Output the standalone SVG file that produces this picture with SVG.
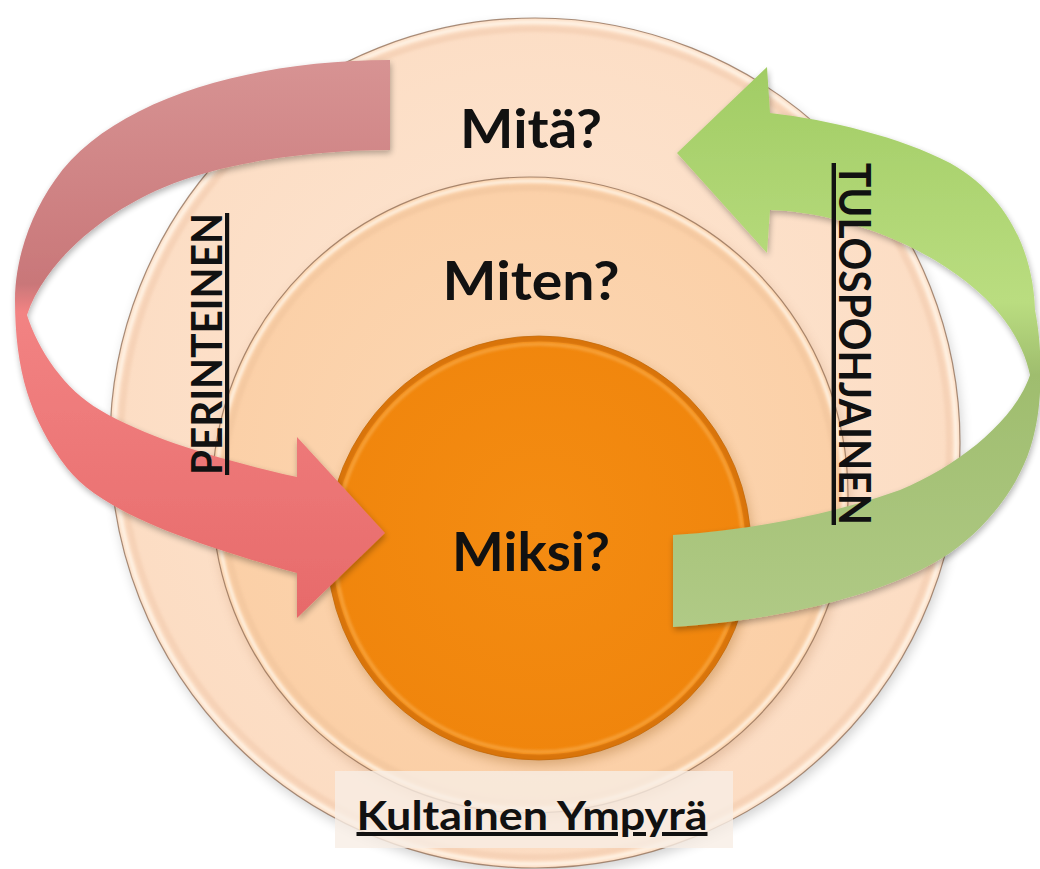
<svg xmlns="http://www.w3.org/2000/svg" width="1040" height="869" viewBox="0 0 1040 869">
  <style>
    .lbl { font-family: Lato, "Open Sans", "Liberation Sans", sans-serif; font-weight: bold; fill: #111; }
    .big { font-size: 53px; }
    .ul { text-decoration: underline; }
    .edge { fill: none; stroke: #8c6a52; stroke-width: 1.2; stroke-opacity: 0.75; }
    .hl { fill: none; stroke: #fffaf0; stroke-width: 3; stroke-opacity: 0.9; }
  </style>
  <defs>
    <filter id="shadow" x="-10%" y="-10%" width="120%" height="120%">
      <feGaussianBlur stdDeviation="6"/>
    </filter>
    <filter id="soft" x="-5%" y="-5%" width="110%" height="110%">
      <feGaussianBlur stdDeviation="1.5"/>
    </filter>
    <filter id="ashadow" x="-10%" y="-10%" width="120%" height="120%">
      <feGaussianBlur in="SourceAlpha" stdDeviation="3"/>
      <feOffset dx="1" dy="3" result="b"/>
      <feComponentTransfer><feFuncA type="linear" slope="0.3"/></feComponentTransfer>
      <feMerge><feMergeNode/><feMergeNode in="SourceGraphic"/></feMerge>
    </filter>
    <radialGradient id="gOuter" cx="0.5" cy="0.45" r="0.55">
      <stop offset="0" stop-color="#fde6d3"/>
      <stop offset="1" stop-color="#fcdcc2"/>
    </radialGradient>
    <radialGradient id="gMid" cx="0.5" cy="0.45" r="0.55">
      <stop offset="0" stop-color="#fcd7b3"/>
      <stop offset="1" stop-color="#fbcfa6"/>
    </radialGradient>
    <radialGradient id="gCore" cx="0.5" cy="0.45" r="0.55">
      <stop offset="0" stop-color="#f48c12"/>
      <stop offset="1" stop-color="#f0850c"/>
    </radialGradient>
    <linearGradient id="gRed" gradientUnits="userSpaceOnUse" x1="0" y1="60" x2="0" y2="620">
      <stop offset="0" stop-color="#d79393"/>
      <stop offset="0.4" stop-color="#c97779"/>
      <stop offset="0.45" stop-color="#f28383"/>
      <stop offset="1" stop-color="#e76a6a"/>
    </linearGradient>
    <linearGradient id="gGreen" gradientUnits="userSpaceOnUse" x1="0" y1="67" x2="0" y2="627">
      <stop offset="0" stop-color="#a1cc64"/>
      <stop offset="0.42" stop-color="#badd80"/>
      <stop offset="0.55" stop-color="#9fbd6e"/>
      <stop offset="1" stop-color="#b0ca86"/>
    </linearGradient>
  </defs>

  <rect width="1040" height="869" fill="#ffffff"/>

  <g id="outer-circle">
    <circle cx="537" cy="448" r="425" fill="#000" opacity="0.18" filter="url(#shadow)"/>
    <circle cx="535" cy="443" r="425" fill="url(#gOuter)"/>
    <circle cx="535" cy="443" r="414" fill="none" stroke="#f2cbae" stroke-width="6" opacity="0.6" filter="url(#soft)"/>
    <circle cx="535" cy="443" r="421" class="hl" filter="url(#soft)"/>
    <circle cx="535" cy="443" r="425" class="edge"/>
    <text class="lbl big" x="531" y="148" text-anchor="middle" textLength="142" lengthAdjust="spacingAndGlyphs">Mitä?</text>
  </g>

  <g id="middle-circle">
    <circle cx="532" cy="500" r="318" fill="#b07850" opacity="0.3" filter="url(#shadow)"/>
    <circle cx="530" cy="495" r="318" fill="url(#gMid)"/>
    <circle cx="530" cy="495" r="307" fill="none" stroke="#f0c49c" stroke-width="6" opacity="0.6" filter="url(#soft)"/>
    <circle cx="530" cy="495" r="314" class="hl" filter="url(#soft)"/>
    <circle cx="530" cy="495" r="318" class="edge"/>
    <text class="lbl big" x="531" y="300" text-anchor="middle" textLength="177" lengthAdjust="spacingAndGlyphs">Miten?</text>
  </g>

  <g id="core-circle">
    <circle cx="541" cy="553" r="212" fill="#8a4a00" opacity="0.3" filter="url(#shadow)"/>
    <circle cx="539" cy="548" r="212" fill="url(#gCore)"/>
    <circle cx="539" cy="548" r="209" fill="none" stroke="#d9740a" stroke-width="5"/>
    <circle cx="539" cy="548" r="204" fill="none" stroke="#f9ad4e" stroke-width="3" opacity="0.8" filter="url(#soft)"/>
    <circle cx="539" cy="548" r="212" fill="none" stroke="#b8620a" stroke-width="1" opacity="0.7"/>
    <text class="lbl big" x="531" y="571" text-anchor="middle" textLength="158" lengthAdjust="spacingAndGlyphs">Miksi?</text>
  </g>

  <g id="connectors">
    <path id="arrow-perinteinen" filter="url(#ashadow)" fill="url(#gRed)" d="M390,60 C250,60 110,100 55,180 C30,215 15,260 15,300 C15,370 30,420 67,468 C100,510 180,540 297,573 L297,618 L385,533 L297,437 L297,477 C230,462 150,440 100,410 C65,390 38,350 27,315 C45,260 110,205 183,180 C240,160 320,150 390,150 Z"/>
    <path id="arrow-tulospohjainen" filter="url(#ashadow)" fill="url(#gGreen)" d="M673,535 L673,627 C760,622 880,600 950,553 C990,525 1025,480 1035,430 C1042,400 1043,350 1035,310 C1033,245 1002,192 950,163 C900,137 830,120 770,113 L767,67 L677,153 L767,253 L770,210 C840,212 930,245 985,298 C1010,322 1025,350 1030,375 C1015,420 960,465 900,490 C830,515 750,530 673,535 Z"/>
  </g>

  <g id="label-perinteinen">
    <text class="lbl ul" transform="translate(222,344) rotate(-90)" x="0" y="0" text-anchor="middle" font-size="42" textLength="262" lengthAdjust="spacingAndGlyphs">PERINTEINEN</text>
  </g>
  <g id="label-tulospohjainen">
    <text class="lbl ul" transform="translate(839,344) rotate(90)" x="0" y="0" text-anchor="middle" font-size="44" textLength="362" lengthAdjust="spacingAndGlyphs">TULOSPOHJAINEN</text>
  </g>

  <g id="title">
    <rect x="335" y="771" width="398" height="77" fill="#f8ede5" opacity="0.8"/>
    <text class="lbl ul" x="532" y="830" text-anchor="middle" font-size="40" textLength="351" lengthAdjust="spacingAndGlyphs">Kultainen Ympyrä</text>
  </g>
</svg>
